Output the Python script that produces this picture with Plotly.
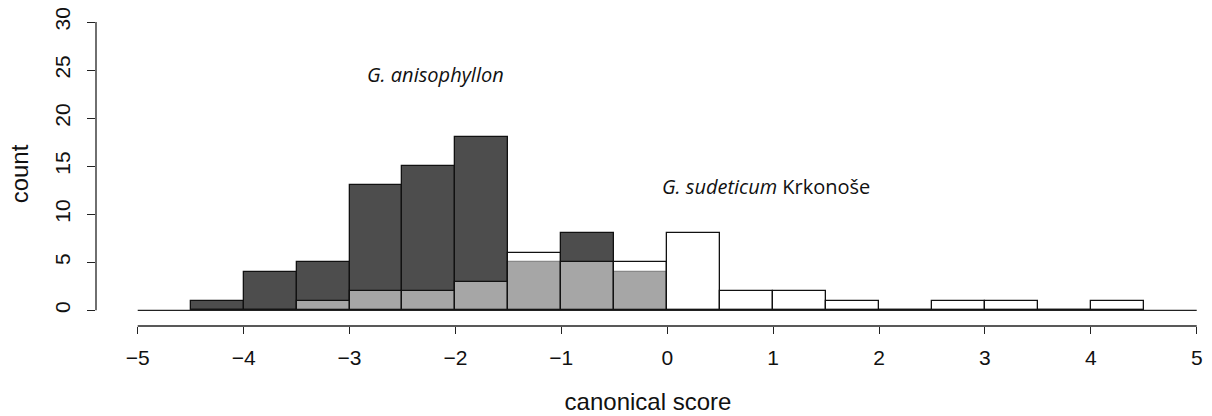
import plotly.graph_objects as go

bin_left = [-4.5, -4.0, -3.5, -3.0, -2.5, -2.0, -1.5, -1.0, -0.5,
            0.0, 0.5, 1.0, 1.5, 2.0, 2.5, 3.0, 3.5, 4.0]
bin_width = 0.5
anisophyllon = [1, 4, 5, 13, 15, 18, 5, 8, 4, 0, 0, 0, 0, 0, 0, 0, 0, 0]
sudeticum = [0, 0, 1, 2, 2, 3, 6, 5, 5, 8, 2, 2, 1, 0, 1, 1, 0, 1]
x_ticks = [-5, -4, -3, -2, -1, 0, 1, 2, 3, 4, 5]
x_tick_text = ["\u22125", "\u22124", "\u22123", "\u22122", "\u22121", "0", "1", "2", "3", "4", "5"]
y_ticks = [0, 5, 10, 15, 20, 25, 30]

centers = [b + bin_width / 2 for b in bin_left]

fig = go.Figure()
fig.add_trace(go.Bar(x=centers, y=anisophyllon, width=bin_width,
                     marker=dict(color="#4d4d4d", line=dict(color="#111111", width=1.3)),
                     showlegend=False))
fig.add_trace(go.Bar(x=centers, y=sudeticum, width=bin_width,
                     marker=dict(color="rgba(255,255,255,0.5)", line=dict(color="#111111", width=1.3)),
                     showlegend=False))

axis_col = "#222222"
font_main = dict(family="Liberation Sans, Arial, sans-serif", size=21, color="#111111")
font_title = dict(family="Liberation Sans, Arial, sans-serif", size=24, color="#111111")
font_ann = dict(family="Open Sans, sans-serif", size=20, color="#111111")

fig.update_layout(
    width=1212, height=416,
    margin=dict(l=96, r=12, t=22, b=90, autoexpand=False),
    plot_bgcolor="white", paper_bgcolor="white",
    barmode="overlay", bargap=0,
    font=font_main,
    xaxis=dict(range=[-5.394, 5.031], tickvals=x_ticks, ticktext=x_tick_text,
               ticks="outside", ticklen=7, tickwidth=1.3, tickcolor=axis_col,
               ticklabelstandoff=6, automargin=False,
               showgrid=False, zeroline=False, showline=False,
               title=dict(text="canonical score", standoff=24, font=font_title),
               tickfont=font_main),
    yaxis=dict(range=[-1.63, 30], tickvals=y_ticks, tickangle=-90,
               ticks="outside", ticklen=8, tickwidth=1.3, tickcolor=axis_col,
               ticklabelstandoff=9, automargin=False,
               showgrid=False, zeroline=False, showline=False,
               title=dict(text="count", standoff=15, font=font_title),
               tickfont=font_main),
    shapes=[
        dict(type="line", xref="paper", yref="y", x0=0, x1=0, y0=0, y1=30,
             line=dict(color=axis_col, width=1.3)),
        dict(type="line", xref="x", yref="paper", x0=-5, x1=5, y0=0, y1=0,
             line=dict(color=axis_col, width=1.3)),
        dict(type="line", xref="x", yref="y", x0=-5, x1=5, y0=0, y1=0,
             line=dict(color=axis_col, width=1.3)),
    ],
    annotations=[
        dict(x=-2.19, y=24.5, xref="x", yref="y", showarrow=False,
             text="<i>G. anisophyllon</i>", font=font_ann),
        dict(x=0.93, y=12.9, xref="x", yref="y", showarrow=False,
             text="<i>G. sudeticum</i> Krkonoše", font=font_ann),
    ],
)

fig.write_html("out.html")
